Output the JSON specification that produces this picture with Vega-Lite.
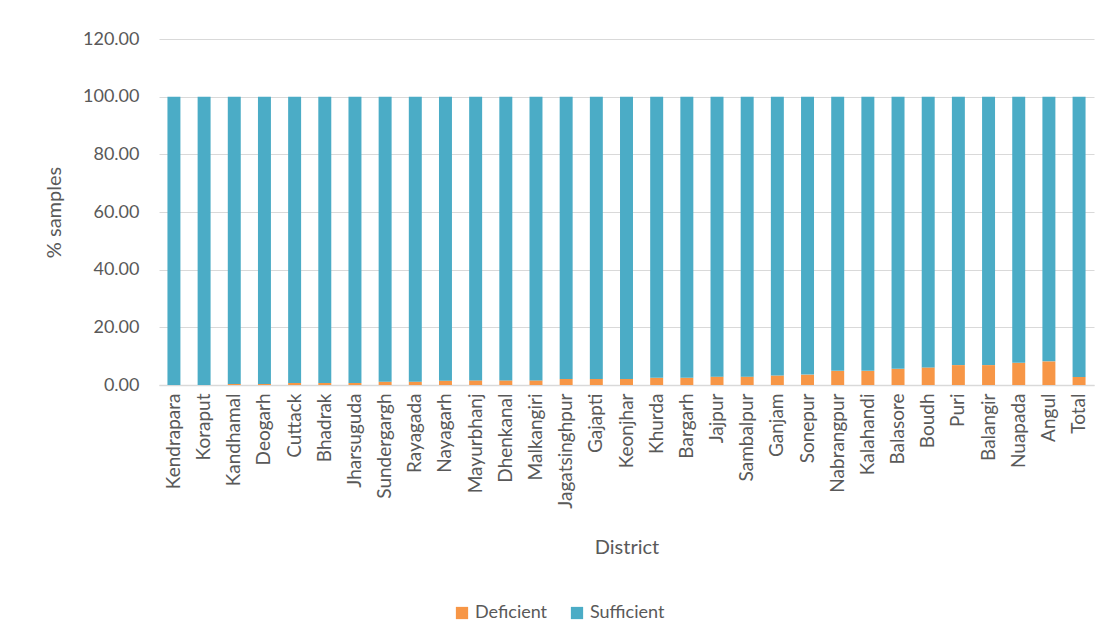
{
  "$schema": "https://vega.github.io/schema/vega-lite/v6.json",
  "width": 935,
  "height": 346,
  "padding": {"left": 44, "top": 30, "right": 10, "bottom": 10},
  "background": "white",
  "config": {
    "font": "Lato",
    "view": {"stroke": null},
    "axis": {"labelColor": "#595959", "titleColor": "#595959", "titleFontWeight": "normal"}
  },
  "data": {"values": [
    {"District": "Kendrapara", "Deficient": 0.0},
    {"District": "Koraput", "Deficient": 0.0},
    {"District": "Kandhamal", "Deficient": 0.35},
    {"District": "Deogarh", "Deficient": 0.35},
    {"District": "Cuttack", "Deficient": 0.7},
    {"District": "Bhadrak", "Deficient": 0.7},
    {"District": "Jharsuguda", "Deficient": 0.7},
    {"District": "Sundergargh", "Deficient": 1.15},
    {"District": "Rayagada", "Deficient": 1.15},
    {"District": "Nayagarh", "Deficient": 1.5},
    {"District": "Mayurbhanj", "Deficient": 1.6},
    {"District": "Dhenkanal", "Deficient": 1.6},
    {"District": "Malkangiri", "Deficient": 1.6},
    {"District": "Jagatsinghpur", "Deficient": 2.1},
    {"District": "Gajapti", "Deficient": 2.1},
    {"District": "Keonjhar", "Deficient": 2.1},
    {"District": "Khurda", "Deficient": 2.5},
    {"District": "Bargarh", "Deficient": 2.5},
    {"District": "Jajpur", "Deficient": 2.9},
    {"District": "Sambalpur", "Deficient": 2.9},
    {"District": "Ganjam", "Deficient": 3.3},
    {"District": "Sonepur", "Deficient": 3.6},
    {"District": "Nabrangpur", "Deficient": 4.9},
    {"District": "Kalahandi", "Deficient": 4.9},
    {"District": "Balasore", "Deficient": 5.6},
    {"District": "Boudh", "Deficient": 6.1},
    {"District": "Puri", "Deficient": 6.9},
    {"District": "Balangir", "Deficient": 6.9},
    {"District": "Nuapada", "Deficient": 7.7},
    {"District": "Angul", "Deficient": 8.2},
    {"District": "Total", "Deficient": 2.8}
  ]},
  "transform": [
    {"calculate": "100 - datum.Deficient", "as": "Sufficient"},
    {"fold": ["Deficient", "Sufficient"], "as": ["Status", "Value"]}
  ],
  "mark": {"type": "bar"},
  "encoding": {
    "x": {
      "field": "District", "type": "nominal", "sort": null,
      "scale": {"paddingInner": 0.57, "paddingOuter": 0.28},
      "axis": {"title": "District", "labelAngle": -90, "labelFontSize": 19, "titleFontSize": 20, "titlePadding": 29,
               "ticks": false, "domainColor": "#d9d9d9", "domainWidth": 1.5, "labelPadding": 8}
    },
    "y": {
      "field": "Value", "type": "quantitative", "stack": "zero",
      "scale": {"domain": [0, 120]},
      "axis": {"title": "% samples", "format": ".2f", "values": [0, 20, 40, 60, 80, 100, 120], "labelOverlap": false,
               "labelFontSize": 18, "titleFontSize": 20, "domain": false, "ticks": false,
               "gridColor": "#d9d9d9", "labelPadding": 20, "titlePadding": 18}
    },
    "color": {
      "field": "Status", "type": "nominal",
      "scale": {"domain": ["Deficient", "Sufficient"], "range": ["#F79646", "#4BACC6"]},
      "legend": {"title": null, "orient": "none", "direction": "horizontal", "legendX": 294, "legendY": 565,
                 "symbolType": "square", "symbolSize": 150, "labelFontSize": 18, "labelColor": "#595959", "columnPadding": 20, "symbolStrokeWidth": 0}
    },
    "order": {"field": "Status", "sort": "ascending"}
  }
}
